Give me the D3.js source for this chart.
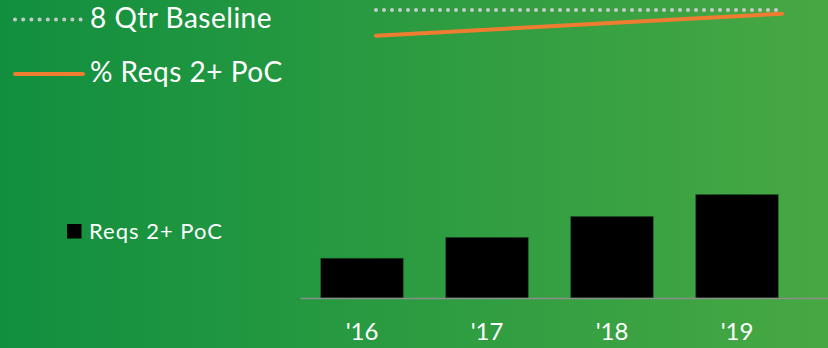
<!DOCTYPE html>
<html>
<head>
<meta charset="utf-8">
<script src="https://cdn.jsdelivr.net/npm/d3@7"></script>
<style>
  html, body { margin: 0; padding: 0; }
  body { width: 828px; height: 348px; overflow: hidden; }
  text { font-family: Lato, "Open Sans", sans-serif; fill: #fff; }
</style>
</head>
<body>
<script>
// bar chart data (yearly)
var years = ["'16", "'17", "'18", "'19"];
var reqsPoc = [40, 61, 82, 104];

// line chart data (start and end of the period)
var linePoints = [0, 1];
var baseline = [40, 40];
var pctReqsPoc = [30.3, 38.6];

// legend labels
var lineLegend = ["8 Qtr Baseline", "% Reqs 2+ PoC"];
var barLegend = "Reqs 2+ PoC";

var width = 828, height = 348;

var svg = d3.select("body").append("svg")
    .attr("width", width)
    .attr("height", height);

// green gradient background
var grad = svg.append("defs").append("linearGradient")
    .attr("id", "bg")
    .attr("x1", "0%").attr("x2", "100%")
    .attr("y1", "0%").attr("y2", "0%");
grad.append("stop").attr("offset", "0%").attr("stop-color", "#118f3f");
grad.append("stop").attr("offset", "100%").attr("stop-color", "#47a843");

svg.append("rect")
    .attr("width", width)
    .attr("height", height)
    .attr("fill", "url(#bg)");

// bars
var x = d3.scaleBand()
    .domain(years)
    .range([299.5, 799.5])
    .paddingInner(0.34)
    .paddingOuter(0.17);

var y = d3.scaleLinear()
    .domain([0, 104])
    .range([298, 194.5]);

svg.selectAll("rect.bar")
    .data(reqsPoc)
    .enter().append("rect")
    .attr("class", "bar")
    .attr("x", function(d, i) { return x(years[i]); })
    .attr("y", function(d) { return y(d); })
    .attr("width", x.bandwidth())
    .attr("height", function(d) { return y(0) - y(d); })
    .attr("fill", "#000")
    .attr("stroke", "#1d5a2a")
    .attr("stroke-width", 0.6);

// baseline axis
svg.append("line")
    .attr("x1", 300.5).attr("x2", 828)
    .attr("y1", y(0) + 0.5).attr("y2", y(0) + 0.5)
    .attr("stroke", "#8a8f8a")
    .attr("stroke-width", 1.5);

var xAxis = svg.append("g")
    .attr("transform", "translate(0," + y(0) + ")")
    .call(d3.axisBottom(x).tickSize(0).tickPadding(25));
xAxis.select(".domain").remove();
xAxis.selectAll("text")
    .attr("fill", "#fff")
    .style("font-size", "24px")
    .style("font-family", "Lato, 'Open Sans', sans-serif");

// line chart at top
var lx = d3.scaleLinear().domain([0, 1]).range([376, 782]);
var ly = d3.scaleLinear().domain([0, 40]).range([116, 10]);

var line = d3.line()
    .x(function(d, i) { return lx(linePoints[i]); })
    .y(function(d) { return ly(d); });

svg.append("path")
    .datum(baseline)
    .attr("d", line)
    .attr("fill", "none")
    .attr("stroke", "#c9cbc9")
    .attr("stroke-width", 4)
    .attr("stroke-linecap", "round")
    .attr("stroke-dasharray", "0 8");

svg.append("path")
    .datum(pctReqsPoc)
    .attr("d", line)
    .attr("fill", "none")
    .attr("stroke", "#ee7d31")
    .attr("stroke-width", 4)
    .attr("stroke-linecap", "round");

// legend for lines
var leg = svg.append("g");
leg.append("line")
    .attr("x1", 15).attr("x2", 81)
    .attr("y1", 19.5).attr("y2", 19.5)
    .attr("stroke", "#c9cbc9")
    .attr("stroke-width", 4)
    .attr("stroke-linecap", "round")
    .attr("stroke-dasharray", "0 8.2");
leg.append("line")
    .attr("x1", 15).attr("x2", 83)
    .attr("y1", 74).attr("y2", 74)
    .attr("stroke", "#ee7d31")
    .attr("stroke-width", 4)
    .attr("stroke-linecap", "round");
leg.selectAll("text")
    .data(lineLegend)
    .enter().append("text")
    .attr("x", 90)
    .attr("y", function(d, i) { return 28 + i * 54; })
    .style("font-size", "28px")
    .style("letter-spacing", "0.5px")
    .text(function(d) { return d; });

// legend for bars
svg.append("rect")
    .attr("x", 67).attr("y", 224)
    .attr("width", 14.5).attr("height", 14.5)
    .attr("fill", "#000");
svg.append("text")
    .attr("x", 89)
    .attr("y", 239)
    .style("font-size", "22px")
    .style("letter-spacing", "1px")
    .text(barLegend);
</script>
</body>
</html>
